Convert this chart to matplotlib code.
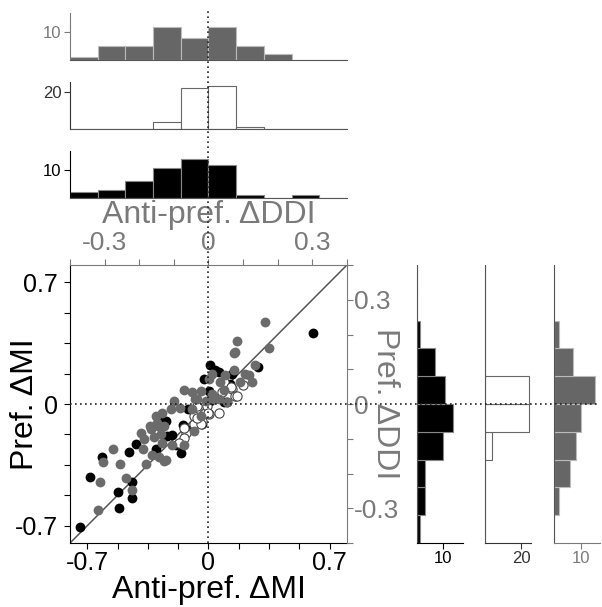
import matplotlib.pyplot as plt
import matplotlib.transforms as mtransforms
from matplotlib.lines import Line2D
from matplotlib.ticker import MultipleLocator
import numpy as np

plt.rcParams["font.family"] = ["Liberation Sans", "DejaVu Sans"]

GRAY = "#6b6b6b"
TXT_GRAY = "#7a7a7a"

# scatter: anti-pref. dMI (x) vs pref. dMI (y)
black_x = [-0.741, -0.684, -0.617, -0.515, -0.521, -0.458, -0.416, -0.439, -0.444,
           -0.305, -0.237, -0.247, -0.28, -0.119, 0.002, -0.132, -0.209, -0.036,
           0.011, -0.027, 0.04, 0.059, 0.126, 0.136, 0.088, 0.289, 0.011, 0.602,
           -0.161, -0.19, -0.148, 0.106]
black_y = [-0.705, -0.418, -0.305, -0.596, -0.505, -0.276, -0.229, -0.45, -0.54,
           -0.256, -0.185, -0.097, -0.091, -0.029, 0.074, -0.142, -0.18, -0.117,
           0.223, 0.146, 0.194, 0.185, 0.117, 0.175, 0.01, 0.214, 0.019, 0.408,
           -0.282, -0.233, -0.12, 0.01]

gray_x = [-0.64, -0.626, -0.611, -0.55, -0.511, -0.477, -0.444, -0.381, -0.362,
          -0.324, -0.337, -0.291, -0.276, -0.257, -0.286, -0.2, -0.165, -0.218,
          -0.266, -0.305, -0.295, -0.257, -0.333, -0.39, -0.314, -0.372, -0.266,
          -0.209, -0.142, -0.094, -0.046, -0.065, -0.017, 0.03, 0.021, -0.094,
          -0.046, 0.165, 0.145, 0.002, 0.069, 0.098, 0.145, 0.184, 0.232, 0.251,
          0.347, 0.088, 0.021, 0.059, -0.075, 0.107, 0.328, 0.27, 0.213, -0.247,
          -0.142, -0.084, 0.154]
gray_y = [-0.608, -0.45, -0.334, -0.256, -0.344, -0.427, -0.495, -0.256, -0.344,
          -0.295, -0.126, -0.126, -0.175, -0.33, -0.305, 0.019, -0.025, -0.029,
          -0.049, -0.068, -0.111, -0.126, -0.142, -0.165, -0.188, -0.204, -0.223,
          -0.233, 0.078, 0.068, 0.074, 0.029, 0.019, 0.029, 0.175, -0.029,
          -0.068, 0.36, 0.291, 0.146, 0.126, 0.165, 0.194, 0.126, 0.165, 0.126,
          0.32, 0.078, 0.058, 0.029, 0.029, 0.01, 0.472, 0.227, 0.175, -0.32,
          -0.233, -0.155, 0.3]

white_x = [-0.036, 0.002, -0.084, -0.132, -0.142, -0.171, -0.084, -0.008, -0.065,
           0.088, 0.136, 0.155, -0.046, 0.077, 0.163, 0.198, 0.129, 0.058, 0.0,
           -0.067, -0.144]
white_y = [-0.097, -0.058, -0.117, -0.165, -0.194, -0.223, -0.068, -0.01, -0.01,
           0.126, 0.087, 0.048, -0.117, 0.068, 0.049, 0.107, 0.097, -0.049, -0.049,
           -0.078, -0.136]

# dDDI histograms, bins of 0.08 from -0.4 to 0.4
ddi_edges = [-0.4, -0.32, -0.24, -0.16, -0.08, 0.0, 0.08, 0.16, 0.24, 0.32, 0.4]
anti_gray = [1, 5, 5, 12, 8, 12, 5, 2, 0, 0]
anti_white = [0, 0, 0, 4, 22, 23, 1, 0, 0, 0]
anti_black = [2, 3, 6, 11, 14, 12, 1, 0, 1, 0]
pref_black = [1, 3, 3, 10, 14, 11, 7, 1, 0, 0]
pref_white = [0, 0, 0, 4, 24, 24, 0, 0, 0, 0]
pref_gray = [0, 2, 6, 8, 10, 15, 7, 2, 0, 0]

fig = plt.figure(figsize=(6.02, 6.07), dpi=100)

# main scatter
ax = fig.add_axes([0.1163, 0.1054, 0.460, 0.458])
ax.plot([-0.8, 0.8], [-0.8, 0.8], color="#555555", lw=1.1, zorder=1)
ax.scatter(black_x, black_y, s=50, c="black", linewidths=0, zorder=2)
ax.scatter(white_x, white_y, s=44, facecolors="white", edgecolors="#444444",
           linewidths=0.8, zorder=3)
ax.scatter(gray_x, gray_y, s=50, c=GRAY, linewidths=0, zorder=4)
ax.set_xlim(-0.8, 0.8)
ax.set_ylim(-0.8, 0.8)
ax.set_xticks([-0.7, 0, 0.7], ["-0.7", "0", "0.7"])
ax.set_yticks([-0.7, 0, 0.7], ["-0.7", "0", "0.7"])
ax.xaxis.set_minor_locator(MultipleLocator(0.175))
ax.yaxis.set_minor_locator(MultipleLocator(0.175))
ax.tick_params(which="both", direction="out", length=4, width=0.8, labelsize=18, pad=5)
ax.tick_params(axis="x", pad=2)
ax.spines[["top", "right"]].set_visible(False)
ax.text(0.5, -0.168, "Anti-pref. ΔMI", transform=ax.transAxes, fontsize=23,
        ha="center", va="center")
ax.text(-0.162, 0.5, "Pref. ΔMI", transform=ax.transAxes, fontsize=23,
        ha="center", va="center", rotation=90)

# dDDI axes on top and right of the scatter
ax_top = ax.twiny()
ax_top.set_xlim(-0.4, 0.4)
ax_top.set_xticks([-0.3, 0, 0.3], ["-0.3", "0", "0.3"])
ax_top.xaxis.set_minor_locator(MultipleLocator(0.1))
ax_top.tick_params(which="both", direction="out", length=4, width=0.8,
                   labelsize=19, pad=3, colors=TXT_GRAY)
for s in ["left", "right", "bottom"]:
    ax_top.spines[s].set_visible(False)
ax_top.spines["top"].set_color(TXT_GRAY)
ax_top.text(0.5, 1.18, "Anti-pref. ΔDDI", transform=ax_top.transAxes, fontsize=23,
            ha="center", va="center", color=TXT_GRAY)

ax_right = ax.twinx()
ax_right.set_ylim(-0.4, 0.4)
ax_right.set_yticks([-0.3, 0, 0.3], ["-0.3", "0", "0.3"])
ax_right.yaxis.set_minor_locator(MultipleLocator(0.1))
ax_right.tick_params(which="both", direction="out", length=4, width=0.8,
                     labelsize=19, pad=1, colors=TXT_GRAY)
for s in ["left", "top", "bottom"]:
    ax_right.spines[s].set_visible(False)
ax_right.spines["right"].set_color(TXT_GRAY)
ax_right.text(1.137, 0.5, "Pref. ΔDDI", transform=ax_right.transAxes, fontsize=23,
              ha="center", va="center", rotation=-90, color=TXT_GRAY)

edges = np.array(ddi_edges)
widths = np.diff(edges)


def style_hist(h, color):
    for s in ["top", "right"]:
        h.spines[s].set_visible(False)
    h.spines["left"].set_color(color)
    h.spines["bottom"].set_color(color)
    h.tick_params(colors=color, labelsize=12, length=4, width=0.8, pad=2)


# anti-pref. dDDI histograms above the scatter
top_specs = [
    (0.9012, anti_gray, dict(color="#666666", edgecolor="#bbbbbb"), 17, 10, TXT_GRAY),
    (0.7875, anti_white, dict(color="white", edgecolor="#666666"), 25.3, 20, "#333333"),
    (0.6738, anti_black, dict(color="black", edgecolor="#888888"), 17, 10, "black"),
]
for bottom, counts, kw, top, tick, col in top_specs:
    h = fig.add_axes([0.1163, bottom, 0.460, 0.0774])
    h.bar(edges[:-1], counts, width=widths, align="edge", linewidth=0.8, **kw)
    h.set_xlim(-0.4, 0.4)
    h.set_ylim(0, top)
    h.set_xticks([])
    h.set_yticks([tick])
    style_hist(h, col)
    h.spines["bottom"].set_color("#555555")

# pref. dDDI histograms to the right of the scatter
right_specs = [
    (0.6927, pref_black, dict(color="black", edgecolor="#888888"), 18, 10, "black"),
    (0.8056, pref_white, dict(color="white", edgecolor="#666666"), 25.5, 20, "#333333"),
    (0.9203, pref_gray, dict(color="#666666", edgecolor="#bbbbbb"), 17, 10, TXT_GRAY),
]
for left, counts, kw, top, tick, col in right_specs:
    h = fig.add_axes([left, 0.1054, 0.077, 0.458])
    h.barh(edges[:-1], counts, height=widths, align="edge", linewidth=0.8, **kw)
    h.set_ylim(-0.4, 0.4)
    h.set_xlim(0, top)
    h.set_yticks([])
    h.set_xticks([tick])
    style_hist(h, col)
    h.spines["left"].set_color("#555555")

# dotted zero lines running across the panels
pos = ax.get_position()
vtrans = mtransforms.blended_transform_factory(ax.transData, fig.transFigure)
fig.add_artist(Line2D([0, 0], [pos.y0, 0.985], transform=vtrans, color="#222222",
                      lw=1.2, ls=(0, (1, 2))))
htrans = mtransforms.blended_transform_factory(fig.transFigure, ax.transData)
fig.add_artist(Line2D([pos.x0, 0.997], [0, 0], transform=htrans, color="#222222",
                      lw=1.2, ls=(0, (1, 2))))

fig.savefig("out.png", dpi=100)
